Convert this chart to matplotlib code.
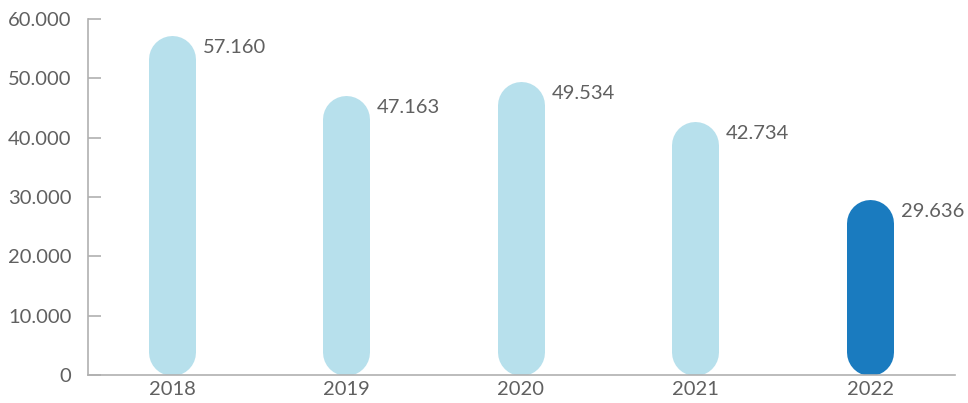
import numpy as np
import matplotlib
matplotlib.use('Agg')
import matplotlib.pyplot as plt

# data
years = ['2018', '2019', '2020', '2021', '2022']
values = [57160, 47163, 49534, 42734, 29636]
value_labels = ['57.160', '47.163', '49.534', '42.734', '29.636']
yticks = [0, 10000, 20000, 30000, 40000, 50000, 60000]
ytick_labels = ['0', '10.000', '20.000', '30.000', '40.000', '50.000', '60.000']

light = '#b7e0ec'
dark = '#1a7bbf'
colors = [light, light, light, light, dark]
text_color = '#606060'
axis_color = '#b0b0b0'

plt.rcParams['font.family'] = ['Lato', 'DejaVu Sans']

fig = plt.figure(figsize=(9.68, 4.03), dpi=100)
ax = fig.add_axes([88 / 968, 28 / 403, 867 / 968, 356 / 403])

x = np.arange(len(years))
ax.set_xlim(-0.481, 4.487)
ax.set_ylim(0, 60000)

# pill-shaped bars: thick lines with round caps
bar_px = 47
lw = bar_px * 72 / fig.dpi
px_per_unit = ax.get_window_extent().height / 60000
r = (bar_px / 2) / px_per_unit
for xi, v, c, lab in zip(x, values, colors, value_labels):
    ax.plot([xi, xi], [r, v - r], color=c, linewidth=lw,
            solid_capstyle='round', zorder=2)
    ax.annotate(lab, xy=(xi, v), xytext=(bar_px / 2 + 7, -12),
                textcoords='offset pixels', ha='left', va='center',
                fontsize=14.5, color=text_color)

ax.set_xticks(x)
ax.set_xticklabels(years)
ax.set_yticks(yticks)
ax.set_yticklabels(ytick_labels)

for s in ['top', 'right']:
    ax.spines[s].set_visible(False)
for s in ['left', 'bottom']:
    ax.spines[s].set_color(axis_color)
    ax.spines[s].set_linewidth(1.2)

ax.tick_params(axis='y', direction='in', length=9, width=1.2, color=axis_color,
               labelsize=14.5, labelcolor=text_color, pad=12)
ax.tick_params(axis='x', length=0, labelsize=14.5, labelcolor=text_color, pad=4)

fig.savefig('out.png', dpi=100)
